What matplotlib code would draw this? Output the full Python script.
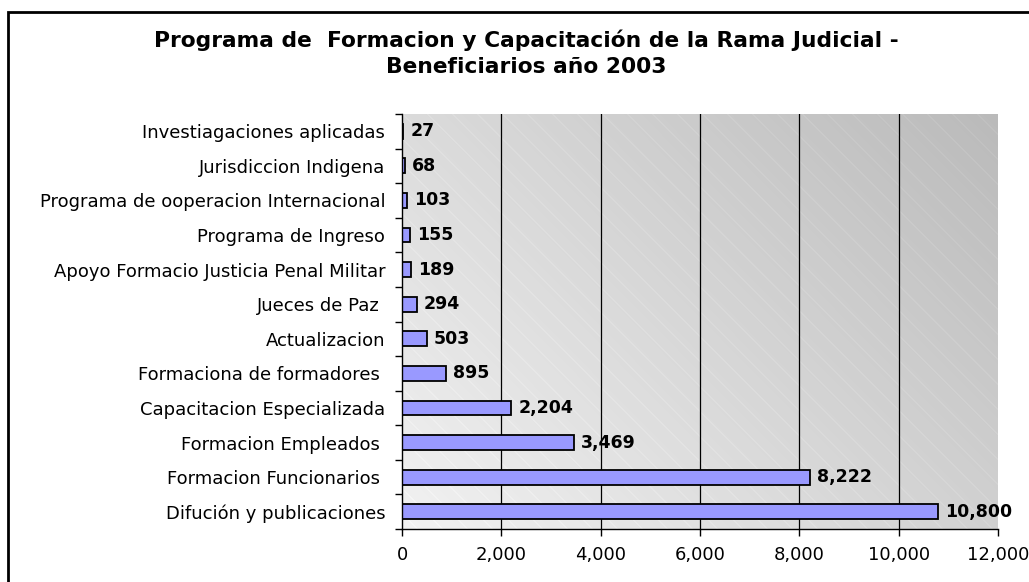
import matplotlib
matplotlib.use("Agg")
import matplotlib.pyplot as plt
import numpy as np
from matplotlib.patches import Rectangle

categories = [
    "Investiagaciones aplicadas",
    "Jurisdiccion Indigena",
    "Programa de ooperacion Internacional",
    "Programa de Ingreso",
    "Apoyo Formacio Justicia Penal Militar",
    "Jueces de Paz ",
    "Actualizacion",
    "Formaciona de formadores ",
    "Capacitacion Especializada",
    "Formacion Empleados ",
    "Formacion Funcionarios ",
    "Difución y publicaciones",
]
values = [27, 68, 103, 155, 189, 294, 503, 895, 2204, 3469, 8222, 10800]
xticks = [0, 2000, 4000, 6000, 8000, 10000, 12000]
title = "Programa de  Formacion y Capacitación de la Rama Judicial -\nBeneficiarios año 2003"

plt.rcParams['font.family'] = ['DejaVu Sans']

W, H = 1029, 582
fig = plt.figure(figsize=(W / 100, H / 100), dpi=100)
left, right, top, bottom = 402, 998, 114, 529
ax = fig.add_axes([left / W, 1 - bottom / H, (right - left) / W, (bottom - top) / H])

# background gradient with faint diagonal stripes
pw, ph = right - left, bottom - top
xx, yy = np.meshgrid(np.arange(pw), np.arange(ph))
u = xx / pw
v = yy / ph  # 0 at top
g = 0.95 - 0.13 * u - 0.09 * (1 - v)
stripes = ((xx - yy * 1.0) % 25) < 1.2
g = g + stripes * 0.02
img = np.dstack([g, g, g])
ax.imshow(img, extent=[0, 1, 0, 1], transform=ax.transAxes, aspect='auto',
          zorder=0, interpolation='bilinear')

y = np.arange(len(categories))
ax.barh(y, values, height=0.43, color='#9999ff', edgecolor='black',
        linewidth=1.3, zorder=3)

for yi, val in zip(y, values):
    ax.annotate(f"{val:,}", (val, yi), xytext=(5, 0), textcoords='offset points',
                va='center', ha='left', fontsize=12.5, fontweight='bold', zorder=4)

ax.set_xlim(0, 12000)
ax.set_ylim(len(categories) - 0.5, -0.5)
ax.set_xticks(xticks)
ax.set_xticklabels([f"{t:,}" for t in xticks], fontsize=13)
ax.set_yticks(y)
ax.set_yticklabels(categories, fontsize=13)
ax.set_yticks(np.arange(len(categories) + 1) - 0.5, minor=True)
ax.tick_params(axis='y', which='major', length=0, pad=12)
ax.tick_params(axis='y', which='minor', length=5, width=1, direction='out')
ax.tick_params(axis='x', length=5, width=1, direction='out', pad=7)
for xt in xticks[1:-1]:
    ax.axvline(xt, color='black', linewidth=0.9, zorder=2)
for s in ['top', 'right']:
    ax.spines[s].set_visible(False)
ax.spines['left'].set_linewidth(1.0)
ax.spines['bottom'].set_linewidth(1.0)
ax.spines['left'].set_zorder(5)
ax.spines['bottom'].set_zorder(5)

fig.text(526 / W, 1 - 53.5 / H, title, ha='center', va='center', fontsize=15.7,
         fontweight='bold', linespacing=1.4)

# outer chart frame
fig.patches.append(Rectangle((8 / W, -0.1), 1.2, 1 - 12 / H + 0.1,
                             transform=fig.transFigure, fill=False,
                             edgecolor='black', linewidth=2, zorder=10))

fig.savefig("out.png", dpi=100)
